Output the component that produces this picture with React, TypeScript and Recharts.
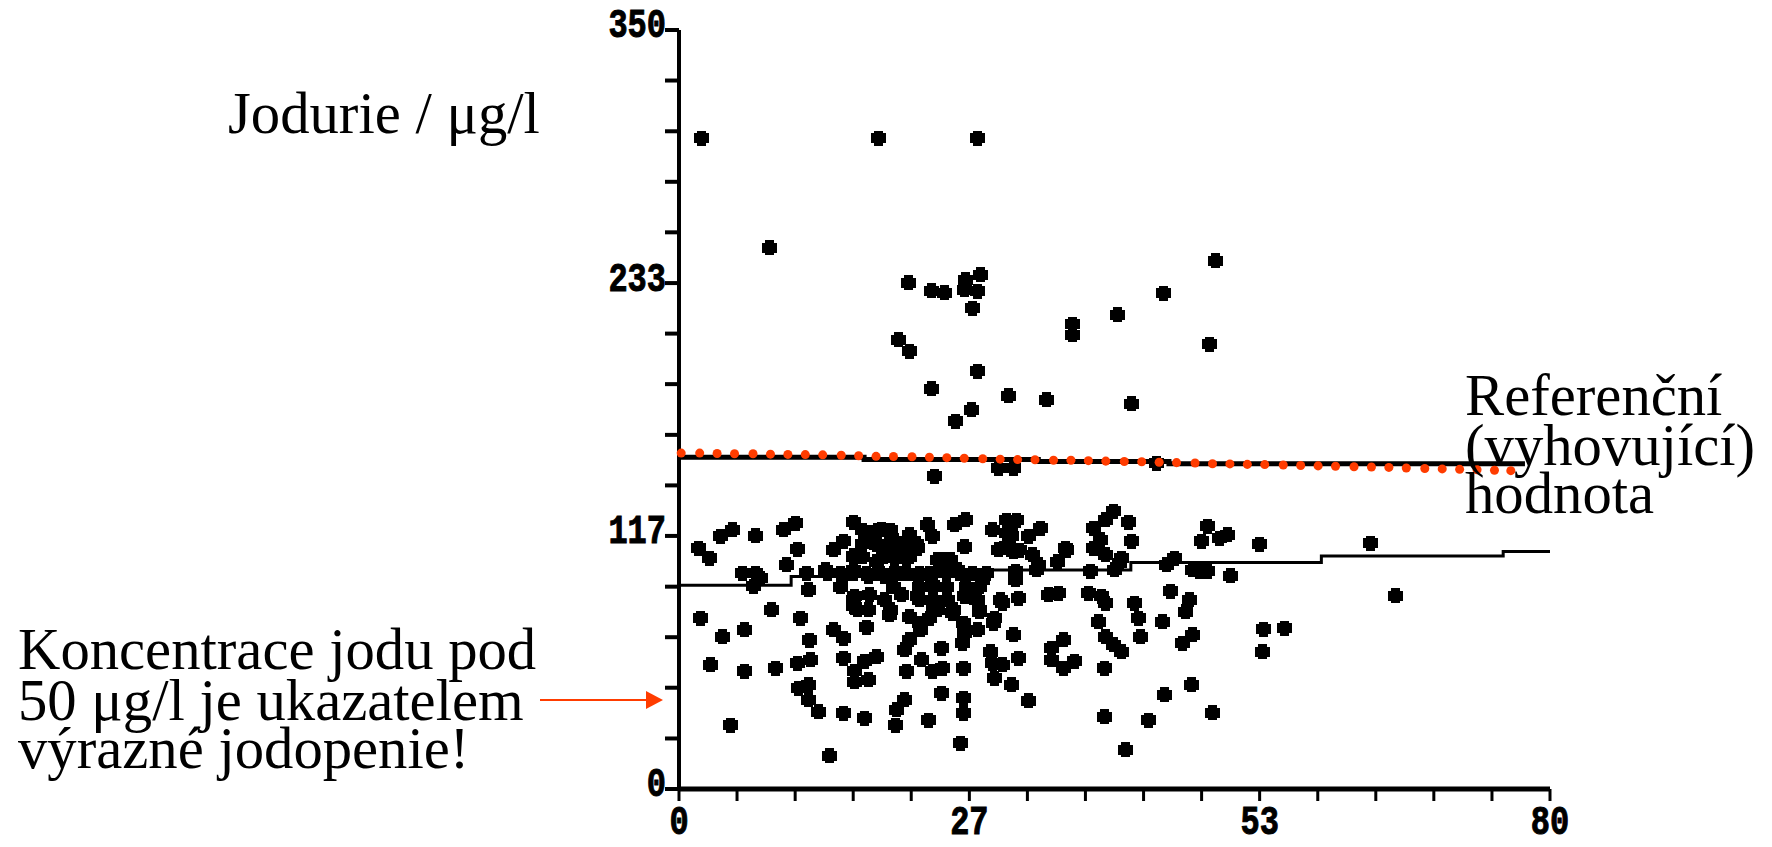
import { Scatter, ScatterChart, XAxis, YAxis, ZAxis } from "recharts";

type Pt = [number, number];

// vek (x), jodurie (y)
const upperPoints: Pt[] = [
  [2.1, 300], [18.3, 300], [27.4, 300], [8.3, 249.5], [21.1, 233.4], [23.2, 229.8], [24.4, 228.8], [26.3, 234.9],
  [27.7, 237.2], [26.2, 230.3], [27.4, 229.5], [27, 221.8], [44.5, 228.5], [40.3, 218.8], [36.1, 214.2], [36.1, 209.5],
  [20.2, 207.2], [21.2, 201.8], [27.4, 192.6], [23.2, 184.6], [30.3, 181.4], [33.8, 179.5], [41.6, 177.7], [26.9, 174.9],
  [25.4, 169.5], [23.5, 144.2], [29.3, 148], [30.7, 148], [43.9, 150.3], [49.3, 243.7], [48.7, 205.2],
];
const aboveMedian: Pt[] = [
  [1.8, 111.1], [2.8, 106.5], [3.8, 116.5], [4.9, 119.5], [7, 116.8], [9.6, 119.5], [10.7, 122.6], [10.9, 110.6],
  [9.9, 103.4], [14.2, 110.3], [15.1, 114.2], [16, 122.9], [16, 107.5], [17.4, 118], [18.6, 119.5], [19.5, 115.7],
  [18.1, 112.6], [18.8, 108.8], [18.1, 104.9], [19.8, 106.5], [20.9, 106.5], [20.9, 111.8], [21.9, 111.1], [21.2, 117.2],
  [22.8, 121.8], [23.3, 116.5], [25.3, 121.8], [26.3, 124.2], [26.2, 111.8], [24.4, 105.7], [25.6, 101.1], [28.8, 119.5],
  [30.7, 122.6], [30.5, 116.5], [33.2, 120.3], [32.1, 116.5], [29.3, 110.3], [30.7, 109.5], [32.5, 108], [35.5, 111.1],
  [34.8, 104.9], [32.8, 101.1], [30.9, 100.3], [30.9, 96.5], [37.8, 100.3], [38.1, 120.3], [39.2, 124.2], [39.9, 128],
  [41.3, 122.9], [41.6, 114.2], [38.1, 111.1], [39.2, 108], [40.6, 106.5], [40, 101.1], [45.5, 106.5], [44.8, 103.4],
  [47.2, 101.1], [48.5, 121.1], [48, 114.2], [49.6, 115.7], [50.4, 117.2], [53.3, 112.9], [63.5, 113.4], [48.5, 100.3],
  [47.8, 100.3], [50.7, 98.3],
];
const onMedian: Pt[] = [
  [5.8, 99.5], [7, 99.5], [6.8, 93.4], [7.5, 97.2], [11.7, 99.5], [11.9, 91.8], [13.5, 101.1], [15.1, 98], [16, 101.1],
  [17.4, 98], [18.9, 98], [20.5, 99.5], [21.9, 98], [23, 99.5], [24.4, 101.1], [26.2, 98], [27.9, 96.5], [23.3, 94.2],
  [26.5, 91.8],
];
const belowMedian: Pt[] = [
  [16.1, 88.8], [17.5, 89.5], [18.9, 87.2], [20.4, 89.5], [16, 84.2], [17.4, 82.6], [19.3, 80.3], [21.9, 88.8],
  [23.3, 87.2], [24.7, 87.2], [26.2, 88.8], [27.4, 87.2], [23.7, 82.6], [25.1, 81.1], [23, 78.8], [27.6, 81.8],
  [29, 78.8], [29.7, 85.7], [31.2, 88], [33.9, 89.5], [34.9, 90.3], [37.6, 90.3], [38.8, 88.8], [39.2, 85.7],
  [41.8, 85.7], [45.1, 91.1], [46.9, 87.2], [46.5, 81.8], [65.8, 89.2],
];
const denseCluster: Pt[] = [
  [16.9, 119.4], [18.2, 119.4], [19.4, 119.4], [16.9, 113.2], [18.2, 113.2], [19.4, 113.2], [20.6, 113.2], [21.8, 113.2],
  [16, 107.1], [16.9, 107.1], [18.8, 107.1], [20.1, 107.1], [21.2, 107.1], [23.7, 105.6], [24.9, 105.6], [13.6, 99.5],
  [14.8, 99.5], [16, 99.5], [17.2, 99.5], [18.5, 99.5], [19.7, 99.5], [20.9, 99.5], [22.1, 99.5], [23.4, 99.5], [24.6, 99.5],
  [25.8, 99.5], [27, 99.5], [28.2, 99.5], [14.8, 93.3], [19.7, 93.3], [22.1, 93.3], [23.4, 93.3], [24.6, 93.3], [26.4, 93.3],
  [27.6, 93.3], [16, 87.2], [22.1, 87.2], [23.4, 87.2], [24.6, 87.2], [27.3, 87.2], [29.5, 87.2], [16.4, 82.6], [19.4, 82.6],
  [23.4, 82.6], [25.2, 82.6], [27.6, 82.6], [22.1, 76.4], [26.1, 76.4], [28.9, 76.4], [30.1, 123.9], [31, 123.9],
  [30.1, 117.9], [30.1, 112], [31.3, 110.2], [33, 103.5], [35.6, 110], [38.7, 115], [40.5, 104],
];
const midPoints: Pt[] = [
  [2, 78.8], [4, 70.3], [6, 73.4], [8.5, 82.6], [11.2, 78.8], [12, 68.5], [14.2, 73.4], [15.1, 69.5], [17.2, 74.6],
  [21.2, 79.5], [22.2, 73.4], [27.4, 73.4], [26.2, 71.8], [26, 67.2], [30.7, 71.1], [38.5, 77.2], [39.2, 70.3],
  [39.9, 66.5], [40.6, 63.4], [42.2, 78.8], [44.4, 77.2], [42.4, 70.3], [46.2, 67.2], [47.2, 71.1], [21.2, 68.8],
  [20.7, 64.2], [22.3, 59.5], [24.1, 64.9], [28.6, 63.4], [28.8, 58], [29.7, 57.2], [29, 51.1], [31.2, 60.3],
  [35.3, 68.8], [34.2, 64.9], [34.2, 59.5], [35.3, 55.7], [36.3, 58.8], [39.1, 55.7], [53.7, 73.7], [55.6, 74.2],
  [53.6, 63.4],
];
const lowPoints: Pt[] = [
  [2.9, 57.2], [6, 54.2], [8.9, 55.7], [10.9, 58], [12.1, 59.5], [15.1, 60.3], [16.1, 54.2], [16.1, 49.5], [17.4, 50.3],
  [18.1, 61.1], [17, 58.8], [20.9, 54.2], [23.3, 54.2], [24.2, 55.7], [26.1, 55.7], [30.5, 48], [11.9, 48], [11, 46.5],
  [11.9, 41.1], [12.8, 35.7], [15.1, 34.9], [17, 32.6], [20.7, 41.1], [20, 36.5], [19.9, 29.5], [22.9, 31.8],
  [24.1, 44.2], [26.1, 41.8], [26.1, 34.9], [32.1, 40.8], [39.1, 33.4], [43.1, 31.8], [44.6, 43.4], [47.1, 48],
  [49, 35.2], [4.7, 29.5], [13.8, 15.4], [25.9, 21.1], [41, 18],
];

const referenceLine: Pt[] = [[0, 153], [17, 153], [17, 152], [33, 152], [33, 151], [45, 151], [45, 150], [77.7, 150]];
const medianLine: Pt[] = [
  [0, 94], [10.3, 94], [10.3, 98], [28, 98], [28, 101], [41.5, 101], [41.5, 104.5], [59, 104.5], [59, 107.5],
  [75.7, 107.5], [75.7, 109.5], [80, 109.5],
];
const redX = [
  0.2, 1.9, 3.5, 5.1, 6.8, 8.4, 10, 11.6, 13.2, 14.9, 16.5, 18.1, 19.7, 21.4, 23, 24.6, 26.2, 27.9, 29.5, 31.1, 32.7, 34.4,
  36, 37.6, 39.2, 40.9, 42.5, 44.1, 45.7, 47.4, 49, 50.6, 52.2, 53.8, 55.5, 57.1, 58.7, 60.3, 62, 63.6, 65.2, 66.8, 68.5,
  70.1, 71.7, 73.3, 74.9, 76.4,
];
const redY = [
  154.9, 154.9, 154.7, 154.6, 154.6, 154.4, 154.3, 154.2, 154.1, 153.9, 153.7, 153.4, 153.3, 153.2, 153, 152.8, 152.5, 152.3,
  152.1, 151.9, 151.8, 151.6, 151.6, 151.4, 151.2, 151, 150.9, 150.7, 150.5, 150.3, 150, 149.9, 149.7, 149.6, 149.4, 149.2,
  149, 148.8, 148.6, 148.5, 148.3, 148, 147.8, 147.6, 147.4, 147.2, 147, 146.8,
];

const xTicks = [0, 5.33, 10.67, 16, 21.33, 26.67, 32, 37.33, 42.67, 48, 53.33, 58.67, 64, 69.33, 74.67, 80];
const yTicks = [0, 23.3, 46.7, 70, 93.3, 116.7, 140, 163.3, 186.7, 210, 233.3, 256.7, 280, 303.3, 326.7, 350];
const xLabels: Record<number, string> = { 0: "0", 26.67: "27", 53.33: "53", 80: "80" };
const yLabels: Record<number, string> = { 0: "0", 116.7: "117", 233.3: "233", 350: "350" };

const toRows = (pts: Pt[]) => pts.map(([x, y]) => ({ x, y }));
const scatterRows = toRows([
  ...upperPoints,
  ...aboveMedian,
  ...onMedian,
  ...belowMedian,
  ...denseCluster,
  ...midPoints,
  ...lowPoints,
]);
const redRows = redX.map((x, i) => ({ x, y: redY[i] }));

const serif = "'Liberation Serif', 'Times New Roman', serif";
const red = "#ff3c00";

// naskenovany bod - kostrbaty ctverecek
function Blob({ cx, cy }: { cx?: number; cy?: number }) {
  return (
    <path
      transform={`translate(${cx},${cy})`}
      d="M-4.5,-7.5H4.5V-5H7.5V5H4.5V7.5H-4.5V5H-7.5V-5H-4.5Z"
      fill="#000"
      shapeRendering="crispEdges"
    />
  );
}

function BitmapLabel({ x, y, text, anchor }: { x: number; y: number; text: string; anchor: "middle" | "end" }) {
  return (
    <text
      transform={`translate(${x},${y}) scale(1,1.25)`}
      textAnchor={anchor}
      dominantBaseline="central"
      fontFamily="'Liberation Mono', monospace"
      fontWeight={700}
      fontSize={32}
      stroke="#000"
      strokeWidth={0.8}
      fill="#000"
    >
      {text}
    </text>
  );
}

const XTick = ({ x, payload }: any) =>
  xLabels[payload.value] ? <BitmapLabel x={x} y={824} text={xLabels[payload.value]} anchor="middle" /> : <g />;
const YTick = ({ y, payload }: any) =>
  yLabels[payload.value] ? <BitmapLabel x={666} y={y - 3} text={yLabels[payload.value]} anchor="end" /> : <g />;

export default function App() {
  return (
    <div style={{ position: "absolute", left: 0, top: 0, width: 1772, height: 847, background: "#fff" }}>
      <ScatterChart width={1772} height={847} margin={{ top: 30, right: 222, bottom: 18, left: 619 }}>
        <XAxis
          type="number"
          dataKey="x"
          domain={[0, 80]}
          ticks={xTicks}
          interval={0}
          height={40}
          tick={<XTick />}
          tickSize={12}
          axisLine={{ stroke: "#000", strokeWidth: 5 }}
          tickLine={{ stroke: "#000", strokeWidth: 3 }}
        />
        <YAxis
          type="number"
          dataKey="y"
          domain={[0, 350]}
          ticks={yTicks}
          interval={0}
          width={60}
          tick={<YTick />}
          tickSize={14}
          axisLine={{ stroke: "#000", strokeWidth: 4 }}
          tickLine={{ stroke: "#000", strokeWidth: 4 }}
        />
        <ZAxis range={[64, 64]} />
        <Scatter
          data={toRows(medianLine)}
          line={{ stroke: "#000", strokeWidth: 3 }}
          shape={() => <g />}
          isAnimationActive={false}
        />
        <Scatter
          data={toRows(referenceLine)}
          line={{ stroke: "#000", strokeWidth: 5 }}
          shape={() => <g />}
          isAnimationActive={false}
        />
        <Scatter data={scatterRows} shape={<Blob />} isAnimationActive={false} />
        <Scatter data={redRows} fill={red} isAnimationActive={false} />
      </ScatterChart>
      <svg width={1772} height={847} style={{ position: "absolute", left: 0, top: 0 }}>
        <g fontFamily={serif} fontSize={58.7} fill="#000">
          <text x={228} y={133}>Jodurie / μg/l</text>
          <text x={1465} y={415}>Referenční</text>
          <text x={1465} y={465}>(vyhovující)</text>
          <text x={1465} y={513}>hodnota</text>
          <text x={18} y={669}>Koncentrace jodu pod</text>
          <text x={18} y={720}>50 μg/l je ukazatelem</text>
          <text x={18} y={768}>výrazné jodopenie!</text>
        </g>
        <line x1={540} y1={700} x2={648} y2={700} stroke={red} strokeWidth={2} />
        <polygon points="646,691 663,700 646,709" fill={red} />
      </svg>
    </div>
  );
}
